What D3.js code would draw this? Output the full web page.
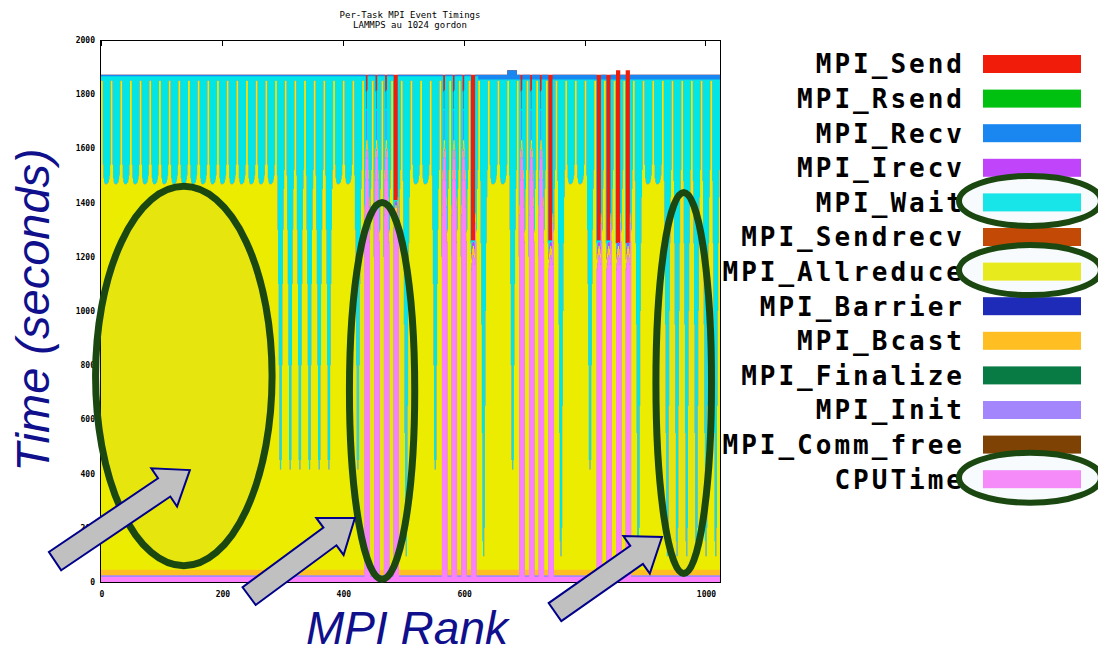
<!DOCTYPE html>
<html>
<head>
<meta charset="utf-8">
<script src="https://cdn.jsdelivr.net/npm/d3@7"></script>
<style>
  html, body { margin: 0; padding: 0; background: #fff; }
  svg { display: block; }
</style>
</head>
<body>
<svg id="chart" width="1098" height="654"></svg>
<script>
// legend, top to bottom
const seriesNames = ['MPI_Send', 'MPI_Rsend', 'MPI_Recv', 'MPI_Irecv', 'MPI_Wait', 'MPI_Sendrecv',
  'MPI_Allreduce', 'MPI_Barrier', 'MPI_Bcast', 'MPI_Finalize', 'MPI_Init', 'MPI_Comm_free', 'CPUTime'];
const seriesColors = ['#f21c0a', '#00c010', '#1a86f0', '#c044fa', '#00e6e6', '#c24a06',
  '#ecec00', '#1e2ab8', '#ffbe22', '#087a44', '#a386fc', '#7e4204', '#fb80fb'];

// stacking order in the plot, bottom to top (the other calls are all zero)
const stackKeys = ['CPUTime', 'MPI_Init', 'MPI_Bcast', 'MPI_Allreduce', 'MPI_Irecv', 'MPI_Wait', 'MPI_Recv', 'MPI_Send'];

const rankCount = 1024;
const ranksPerNode = 16;

// what each 16-rank node looks like
// N normal, D wait dips to ~400 s, E wait dips to ~100 s, S cpu + short send, M/L/T cpu + long send
const nodeType = [
  'N', 'N', 'N', 'N', 'N', 'N', 'N', 'N',
  'N', 'N', 'N', 'N', 'N', 'N', 'N', 'N',
  'N', 'N', 'D', 'D', 'D', 'D', 'D', 'D',
  'N', 'N', 'D', 'S', 'S', 'S', 'M', 'E',
  'N', 'N', 'D', 'S', 'S', 'S', 'L', 'E',
  'N', 'N', 'D', 'S', 'S', 'S', 'L', 'E',
  'N', 'N', 'D', 'L', 'L', 'T', 'T', 'E',
  'N', 'N', 'E', 'E', 'E', 'E', 'E', 'E'
];

// MPI_Recv band at the top of each node (seconds)
const recvStart = [
  1866, 1866, 1866, 1866, 1866, 1866, 1866, 1866,
  1866, 1866, 1866, 1866, 1866, 1866, 1866, 1866,
  1866, 1866, 1866, 1866, 1866, 1866, 1866, 1866,
  1866, 1866, 1866, 1866, 1866, 1866, 1866, 1866,
  1866, 1866, 1866, 1866, 1866, 1866, 1866, 1854,
  1854, 1854, 1854, 1854, 1854, 1854, 1854, 1854,
  1854, 1854, 1854, 1854, 1854, 1854, 1854, 1854,
  1854, 1854, 1854, 1854, 1854, 1854, 1854, 1854
];
const recvEnd = [
  1872, 1872, 1872, 1872, 1872, 1872, 1872, 1872,
  1872, 1872, 1872, 1872, 1872, 1872, 1872, 1872,
  1872, 1872, 1872, 1872, 1872, 1872, 1872, 1872,
  1872, 1872, 1872, 1872, 1872, 1872, 1872, 1872,
  1872, 1872, 1872, 1872, 1872, 1872, 1872, 1872,
  1872, 1872, 1888, 1872, 1872, 1872, 1872, 1872,
  1872, 1872, 1872, 1872, 1872, 1872, 1872, 1872,
  1872, 1872, 1872, 1872, 1872, 1872, 1872, 1872
];

// per rank inside a node (16 values)
const cpuTime = {
  N: [18, 18, 18, 18, 18, 18, 18, 18, 18, 18, 18, 18, 18, 18, 18, 18],
  D: [18, 18, 18, 18, 18, 18, 18, 18, 18, 18, 18, 18, 18, 18, 18, 18],
  E: [18, 18, 18, 18, 18, 18, 18, 18, 18, 18, 18, 18, 18, 18, 18, 18],
  S: [18, 18, 18, 18, 1350, 1480, 1560, 1590, 1590, 1560, 1480, 1380, 1250, 18, 18, 18],
  M: [18, 18, 18, 18, 1300, 1320, 1340, 1350, 1350, 1340, 1320, 1380, 1250, 18, 18, 18],
  L: [18, 18, 18, 18, 1150, 1170, 1190, 1200, 1200, 1190, 1170, 1320, 1250, 18, 18, 18],
  T: [18, 18, 18, 18, 1150, 1170, 1190, 1200, 1200, 1190, 1170, 1320, 1250, 18, 18, 18]
};
const initTime = 7;
const bcastTime = 20;

// where the yellow MPI_Allreduce band ends
const allreduceTop = {
  N: [1850, 1850, 1850, 1540, 1490, 1475, 1470, 1468, 1468, 1468, 1470, 1472, 1475, 1485, 1500, 1540],
  D: [1850, 1850, 1850, 1500, 1300, 1100, 800, 450, 415, 415, 450, 800, 1100, 1300, 1450, 1520],
  E: [1850, 1850, 1850, 1480, 1250, 950, 550, 150, 95, 95, 200, 650, 1000, 1250, 1420, 1520],
  S: [1850, 1850, 1850, 1200, 1390, 1520, 1600, 1630, 1630, 1600, 1520, 1420, 1290, 1300, 1450, 1520],
  M: [1850, 1850, 1850, 1250, 1340, 1360, 1380, 1390, 1390, 1380, 1360, 1420, 1290, 1300, 1450, 1520],
  L: [1850, 1850, 1850, 1250, 1190, 1210, 1230, 1240, 1240, 1230, 1210, 1360, 1290, 1300, 1450, 1520],
  T: [1850, 1850, 1850, 1250, 1190, 1210, 1230, 1240, 1240, 1230, 1210, 1360, 1290, 1300, 1450, 1520]
};
// where MPI_Irecv ends (0 = none)
const irecvTop = {
  N: [0, 0, 0, 0, 0, 0, 0, 0, 0, 0, 0, 0, 0, 0, 0, 0],
  D: [0, 0, 0, 0, 0, 0, 0, 0, 0, 0, 0, 0, 0, 0, 0, 0],
  E: [0, 0, 0, 0, 0, 0, 0, 0, 0, 0, 0, 0, 0, 0, 0, 0],
  S: [0, 0, 0, 0, 0, 0, 0, 1740, 0, 0, 0, 0, 0, 0, 0, 0],
  M: [0, 0, 0, 0, 1360, 1380, 1400, 1405, 1405, 1400, 1380, 0, 0, 0, 0, 0],
  L: [0, 0, 0, 0, 1215, 1235, 1250, 1255, 1255, 1250, 1235, 0, 0, 0, 0, 0],
  T: [0, 0, 0, 0, 1215, 1235, 1250, 1255, 1255, 1250, 1235, 0, 0, 0, 0, 0]
};
// where MPI_Send starts (0 = none)
const sendFrom = {
  N: [0, 0, 0, 0, 0, 0, 0, 0, 0, 0, 0, 0, 0, 0, 0, 0],
  D: [0, 0, 0, 0, 0, 0, 0, 0, 0, 0, 0, 0, 0, 0, 0, 0],
  E: [0, 0, 0, 0, 0, 0, 0, 0, 0, 0, 0, 0, 0, 0, 0, 0],
  S: [0, 0, 0, 0, 0, 0, 1810, 1745, 1815, 0, 0, 0, 0, 0, 0, 0],
  M: [0, 0, 0, 0, 1410, 1410, 1410, 1410, 1410, 1410, 1410, 0, 0, 0, 0, 0],
  L: [0, 0, 0, 0, 1260, 1260, 1260, 1260, 1260, 1260, 1260, 0, 0, 0, 0, 0],
  T: [0, 0, 0, 0, 1250, 1250, 1250, 1250, 1250, 1250, 1250, 0, 0, 0, 0, 0]
};
const sendTo = { N: 0, D: 0, E: 0, S: 1872, M: 1872, L: 1872, T: 1888 };

const xTicks = [0, 200, 400, 600, 800, 1000];
const yTicks = [0, 200, 400, 600, 800, 1000, 1200, 1400, 1600, 1800, 2000];

// slide annotations, in rank / seconds
const ellipses = [
  { rank: 137, sec: 760, rRank: 146, rSec: 700 },
  { rank: 465, sec: 705, rRank: 54, rSec: 695 },
  { rank: 964, sec: 734, rRank: 46, rSec: 703 }
];
const arrows = [
  { fromRank: -76, fromSec: 77, toRank: 147, toSec: 413 },
  { fromRank: 245, fromSec: -52, toRank: 420, toSec: 236 },
  { fromRank: 751, fromSec: -111, toRank: 928, toSec: 166 }
];
const circledLegend = ['MPI_Wait', 'MPI_Allreduce', 'CPUTime'];

const svg = d3.select('#chart');
const plot = { left: 101, right: 720, top: 40, bottom: 582 };

const x = d3.scaleLinear().domain([0, rankCount]).range([plot.left, plot.right]);
const y = d3.scaleLinear().domain([0, 2000]).range([plot.bottom, plot.top]);
const color = d3.scaleOrdinal().domain(seriesNames).range(seriesColors);

const rows = d3.range(rankCount).map(rank => {
  const node = Math.floor(rank / ranksPerNode);
  const k = rank % ranksPerNode;
  const t = nodeType[node];
  const cpu = cpuTime[t][k];
  const yellowTop = allreduceTop[t][k];
  const purpleTop = Math.max(irecvTop[t][k], yellowTop);
  const hasSend = sendFrom[t][k] > 0;
  const waitTop = hasSend ? sendFrom[t][k] : recvStart[node];
  return {
    rank,
    CPUTime: cpu,
    MPI_Init: initTime,
    MPI_Bcast: bcastTime,
    MPI_Allreduce: yellowTop - cpu - initTime - bcastTime,
    MPI_Irecv: purpleTop - yellowTop,
    MPI_Wait: waitTop - purpleTop,
    MPI_Recv: hasSend ? 0 : recvEnd[node] - recvStart[node],
    MPI_Send: hasSend ? sendTo[t] - sendFrom[t][k] : 0
  };
});

const layers = d3.stack().keys(stackKeys)(rows);

// paint top layers first, each down to zero, so no seams show between bands
const area = d3.area()
  .curve(d3.curveStepAfter)
  .x((d, i) => x(i))
  .y0(y(0))
  .y1(d => y(d[1]));

const dataGroup = svg.append('g');
layers.slice().reverse().forEach(layer => {
  const points = layer.concat([layer[layer.length - 1]]);
  dataGroup.append('path')
    .attr('d', area(points))
    .attr('fill', color(layer.key));
});

// frame and ticks, gnuplot style
svg.append('rect')
  .attr('x', plot.left - 0.5)
  .attr('y', plot.top + 0.5)
  .attr('width', plot.right - plot.left + 1)
  .attr('height', plot.bottom - plot.top)
  .attr('fill', 'none')
  .attr('stroke', '#000')
  .attr('stroke-width', 1);

svg.append('g')
  .selectAll('line')
  .data(xTicks)
  .join('line')
  .attr('x1', d => Math.round(x(d)) + 0.5)
  .attr('x2', d => Math.round(x(d)) + 0.5)
  .attr('y1', plot.top)
  .attr('y2', plot.top + 6)
  .attr('stroke', '#000');

const tickFont = "'DejaVu Sans Mono', monospace";

svg.append('g')
  .selectAll('text')
  .data(xTicks)
  .join('text')
  .attr('x', d => x(d) + 1)
  .attr('y', plot.bottom + 15)
  .attr('text-anchor', 'middle')
  .style('font-family', tickFont)
  .style('font-weight', 'bold')
  .style('font-size', '8px')
  .text(d => d);

svg.append('g')
  .selectAll('text')
  .data(yTicks)
  .join('text')
  .attr('x', plot.left - 6)
  .attr('y', d => y(d) + 3)
  .attr('text-anchor', 'end')
  .style('font-family', tickFont)
  .style('font-weight', 'bold')
  .style('font-size', '8px')
  .text(d => d);

// title
const titleLines = ['Per-Task MPI Event Timings', 'LAMMPS au 1024 gordon'];
svg.append('g')
  .selectAll('text')
  .data(titleLines)
  .join('text')
  .attr('x', 410)
  .attr('y', (d, i) => 18 + i * 10)
  .attr('text-anchor', 'middle')
  .style('font-family', tickFont)
  .style('font-size', '9px')
  .text(d => d);

// axis titles
const axisTitleColor = '#10108c';
svg.append('text')
  .attr('transform', 'translate(49, 310) rotate(-90)')
  .attr('text-anchor', 'middle')
  .style('font-family', "'Liberation Sans', Arial, sans-serif")
  .style('font-style', 'italic')
  .style('font-size', '47px')
  .attr('fill', axisTitleColor)
  .text('Time (seconds)');

svg.append('text')
  .attr('x', 407)
  .attr('y', 644)
  .attr('text-anchor', 'middle')
  .style('font-family', "'Liberation Sans', Arial, sans-serif")
  .style('font-style', 'italic')
  .style('font-size', '46px')
  .attr('fill', axisTitleColor)
  .text('MPI Rank');

// legend
const legendTop = 64;
const legendStep = 34.6;
const legend = svg.append('g')
  .selectAll('g')
  .data(seriesNames)
  .join('g')
  .attr('transform', (d, i) => `translate(0, ${legendTop + i * legendStep})`);

legend.append('text')
  .attr('x', 965)
  .attr('y', 0)
  .attr('dy', '0.36em')
  .attr('text-anchor', 'end')
  .style('font-family', tickFont)
  .style('font-weight', 'bold')
  .style('font-size', '26px')
  .style('letter-spacing', '3px')
  .text(d => d);

legend.append('rect')
  .attr('x', 983)
  .attr('y', -9)
  .attr('width', 98)
  .attr('height', 18)
  .attr('fill', d => color(d));

// annotations drawn on top
const ringColor = '#1a4810';
const notes = svg.append('g');

notes.selectAll('ellipse.plot')
  .data(ellipses)
  .join('ellipse')
  .attr('class', 'plot')
  .attr('cx', d => x(d.rank))
  .attr('cy', d => y(d.sec))
  .attr('rx', d => x(d.rank + d.rRank) - x(d.rank))
  .attr('ry', d => y(0) - y(d.rSec))
  .attr('fill', '#a0a0b0')
  .attr('fill-opacity', 0.08)
  .attr('stroke', ringColor)
  .attr('stroke-width', 7);

notes.selectAll('ellipse.legend')
  .data(circledLegend)
  .join('ellipse')
  .attr('class', 'legend')
  .attr('cx', 1030)
  .attr('cy', d => legendTop + seriesNames.indexOf(d) * legendStep - 1.5)
  .attr('rx', 71)
  .attr('ry', 25)
  .attr('fill', '#c8dcf0')
  .attr('fill-opacity', 0.12)
  .attr('stroke', ringColor)
  .attr('stroke-width', 6);

function arrowPath(d) {
  const x0 = x(d.fromRank), y0 = y(d.fromSec);
  const x1 = x(d.toRank), y1 = y(d.toSec);
  const len = Math.hypot(x1 - x0, y1 - y0);
  const ux = (x1 - x0) / len, uy = (y1 - y0) / len;
  const nx = -uy, ny = ux;
  const shaft = 11, head = 23, headLen = 31;
  const bx = x1 - ux * headLen, by = y1 - uy * headLen;
  const pts = [
    [x0 + nx * shaft, y0 + ny * shaft],
    [bx + nx * shaft, by + ny * shaft],
    [bx + nx * head, by + ny * head],
    [x1, y1],
    [bx - nx * head, by - ny * head],
    [bx - nx * shaft, by - ny * shaft],
    [x0 - nx * shaft, y0 - ny * shaft]
  ];
  return d3.line()(pts) + 'Z';
}

notes.selectAll('path.arrow')
  .data(arrows)
  .join('path')
  .attr('class', 'arrow')
  .attr('d', arrowPath)
  .attr('fill', '#c0c0c0')
  .attr('stroke', '#00008a')
  .attr('stroke-width', 2)
  .attr('stroke-linejoin', 'miter');
</script>
</body>
</html>
